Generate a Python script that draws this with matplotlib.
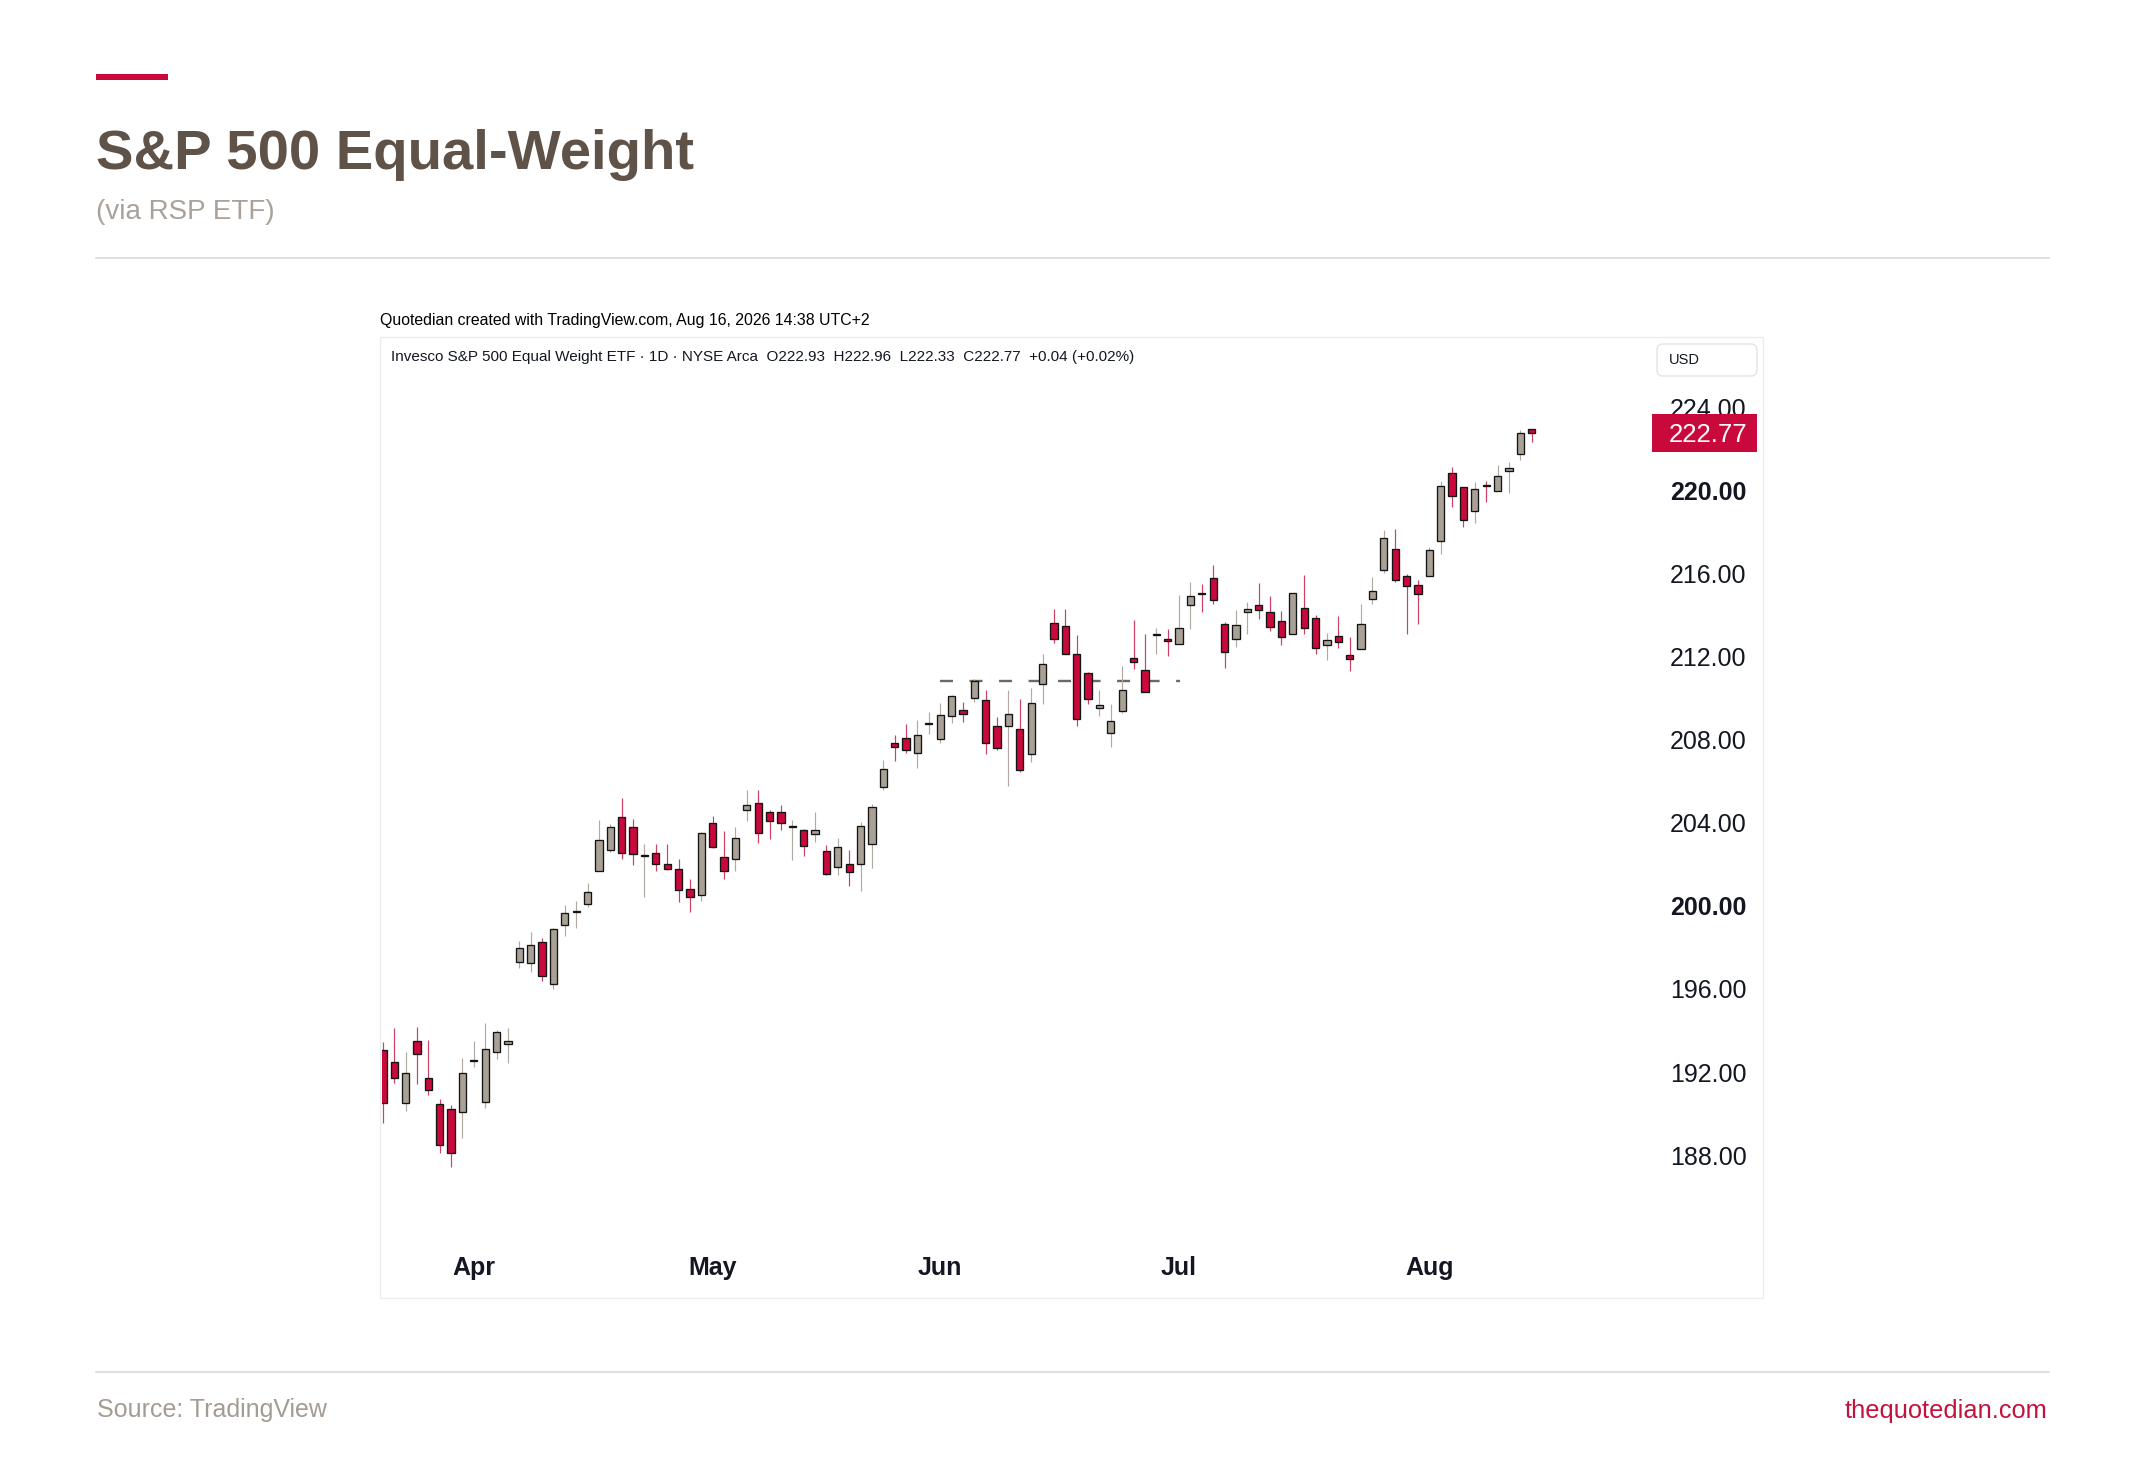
import numpy as np
import pandas as pd
import matplotlib
matplotlib.use("Agg")
import matplotlib.pyplot as plt
import matplotlib.transforms as mtransforms
from matplotlib.patches import Rectangle, FancyBboxPatch
from matplotlib.lines import Line2D

# ---------------- data ----------------
holidays = ["2026-04-03", "2026-05-25", "2026-06-19", "2026-07-03"]
start_date = "2026-03-20"
end_date = "2026-08-14"

opens = [193.06, 192.50, 190.53, 193.49, 191.73, 190.45, 190.21, 190.06, 192.54, 190.58,
         192.98, 193.35, 197.31, 197.23, 198.27, 196.23, 199.10, 199.72, 200.11, 201.68,
         202.67, 204.25, 203.80, 202.41, 202.56, 201.99, 201.79, 200.80, 200.54, 204.00,
         202.35, 202.27, 204.60, 204.97, 204.49, 204.49, 203.78, 203.67, 203.44, 202.63,
         201.87, 201.99, 201.99, 202.95, 205.72, 207.85, 208.06, 207.37, 208.76, 208.04,
         209.12, 209.44, 210.02, 209.89, 208.65, 208.65, 208.53, 207.32, 210.69, 213.61,
         213.48, 212.13, 211.22, 209.54, 208.33, 209.36, 211.91, 211.36, 213.02, 212.82,
         212.58, 214.49, 215.06, 215.78, 213.54, 212.82, 214.13, 214.49, 214.15, 213.72,
         213.09, 214.34, 213.85, 212.56, 213.00, 212.08, 212.37, 214.77, 216.17, 217.18,
         215.85, 215.42, 215.86, 217.55, 220.83, 220.14, 218.99, 220.27, 219.97, 220.93,
         221.75, 222.93]
highs = [193.46, 194.10, 192.98, 194.18, 193.54, 190.70, 190.41, 192.69, 193.51, 194.34,
         194.02, 194.10, 198.30, 198.75, 198.43, 198.91, 200.06, 200.24, 201.12, 204.12,
         203.96, 205.21, 204.20, 202.95, 202.95, 202.95, 202.27, 201.28, 203.56, 204.31,
         203.60, 203.80, 205.56, 205.56, 204.63, 204.84, 204.12, 203.70, 204.52, 202.91,
         203.28, 202.67, 204.04, 204.89, 207.00, 208.20, 208.77, 208.93, 209.33, 209.78,
         210.16, 209.81, 210.93, 210.37, 209.09, 210.37, 209.94, 210.48, 212.13, 214.29,
         214.29, 213.01, 211.25, 210.37, 209.70, 211.52, 213.77, 213.09, 213.38, 213.33,
         214.94, 215.58, 215.46, 216.38, 213.65, 214.21, 214.61, 215.53, 214.93, 214.18,
         215.05, 215.94, 213.97, 213.14, 213.93, 212.93, 214.50, 215.82, 218.06, 218.14,
         215.98, 215.66, 217.26, 220.46, 221.10, 220.16, 220.38, 220.46, 221.23, 221.35,
         222.90, 222.96]
lows = [189.53, 191.49, 190.14, 191.41, 190.90, 188.09, 187.45, 188.81, 192.26, 190.25,
        192.61, 192.45, 196.99, 196.83, 196.39, 195.99, 198.56, 198.94, 199.92, 201.68,
        202.60, 202.24, 201.95, 200.40, 201.68, 201.71, 200.19, 199.71, 200.24, 202.80,
        201.28, 201.68, 204.08, 203.00, 203.20, 203.64, 202.19, 202.39, 203.08, 201.47,
        201.47, 200.94, 200.72, 201.83, 205.56, 206.97, 207.36, 206.63, 208.29, 207.85,
        208.80, 208.85, 209.81, 207.32, 207.52, 205.75, 206.45, 206.92, 209.70, 212.64,
        212.10, 208.64, 209.73, 209.13, 207.64, 209.28, 211.38, 210.27, 212.10, 212.02,
        212.58, 213.33, 214.13, 214.50, 211.46, 212.45, 213.06, 213.81, 213.22, 212.53,
        213.09, 213.09, 212.13, 211.81, 212.40, 211.30, 212.37, 214.50, 216.01, 215.58,
        213.09, 213.57, 215.86, 216.91, 219.21, 218.22, 218.41, 219.42, 219.97, 219.85,
        221.46, 222.33]
closes = [190.49, 191.73, 191.94, 192.85, 191.14, 188.49, 188.09, 191.94, 192.58, 193.11,
          193.94, 193.51, 197.98, 198.11, 196.63, 198.86, 199.66, 199.76, 200.67, 203.16,
          203.80, 202.56, 202.48, 202.45, 202.03, 201.79, 200.75, 200.40, 203.48, 202.83,
          201.66, 203.24, 204.87, 203.52, 204.08, 203.99, 203.82, 202.88, 203.67, 201.52,
          202.83, 201.63, 203.84, 204.73, 206.60, 207.64, 207.52, 208.24, 208.80, 209.20,
          210.08, 209.25, 210.82, 207.85, 207.60, 209.21, 206.52, 209.76, 211.65, 212.85,
          212.13, 208.97, 209.97, 209.65, 208.91, 210.40, 211.73, 210.29, 213.06, 212.76,
          213.38, 214.90, 215.02, 214.73, 212.19, 213.52, 214.28, 214.21, 213.41, 212.93,
          215.05, 213.36, 212.42, 212.77, 212.71, 211.89, 213.57, 215.14, 217.71, 215.69,
          215.37, 214.98, 217.10, 220.22, 219.71, 218.57, 220.06, 220.18, 220.67, 221.07,
          222.73, 222.77]

month_labels = ["Apr", "May", "Jun", "Jul", "Aug"]
y_ticks = [188, 192, 196, 200, 204, 208, 212, 216, 220, 224]
bold_ticks = [200, 220]
hline_level = 210.82
hline_from = "2026-06-01"
hline_to = "2026-07-01"

title = "S&P 500 Equal-Weight"
subtitle = "(via RSP ETF)"
source = "Source: TradingView"
site = "thequotedian.com"
created = "Quotedian created with TradingView.com, Aug 16, 2026 14:38 UTC+2"
instrument = "Invesco S&P 500 Equal Weight ETF · 1D · NYSE Arca"
currency = "USD"

# ---------------- style ----------------
plt.rcParams["font.family"] = ["Liberation Sans", "DejaVu Sans"]
RED = "#c9083c"
GRAY = "#a9a196"
WICK_RED = "#cf3f64"
WICK_GRAY = "#b1aaa2"
TXT = "#131722"

W, H, DPI = 2145, 1458, 100
fig = plt.figure(figsize=(W / DPI, H / DPI), dpi=DPI)
fig.patch.set_facecolor("white")
P = mtransforms.Affine2D().scale(1.0 / DPI) + fig.dpi_scale_trans


def Y(y):
    return H - y


dates = pd.bdate_range(start_date, end_date, freq="C", holidays=holidays)
o = np.array(opens)
h = np.array(highs)
l = np.array(lows)
c = np.array(closes)
n = len(o)
dates = dates[:n]
x = np.arange(n)

# ---------------- price pane ----------------
ax_l, ax_r, ax_t, ax_b = 381.5, 1652.0, 338.0, 1240.0
ax = fig.add_axes([ax_l / W, 1 - ax_b / H, (ax_r - ax_l) / W, (ax_b - ax_t) / H])
ax.set_facecolor("white")

up = c >= o
body_colors = np.where(up, GRAY, RED)
wick_colors = np.where(up, WICK_GRAY, WICK_RED)
ax.vlines(x, l, h, colors=wick_colors, linewidth=0.85, zorder=2)
ax.bar(x, np.maximum(np.abs(c - o), 0.02), width=0.64, bottom=np.minimum(o, c),
       color=body_colors, edgecolor="#141414", linewidth=0.95, zorder=3)

i_from = int(np.where(dates == pd.Timestamp(hline_from))[0][0])
i_to = int(np.where(dates == pd.Timestamp(hline_to))[0][0])
ax.hlines(hline_level, i_from, i_to + 0.08, colors="#6e6862", linewidth=1.7,
          linestyles=(0, (5.5, 7.0)), zorder=1.5)

ax.set_xlim(-0.12, 111.58)
ax.set_ylim(183.92, 227.32)

# y axis on the right
ax.yaxis.tick_right()
ax.set_yticks(y_ticks)
ax.set_yticklabels([f"{v:.2f}" for v in y_ticks])
ax.tick_params(axis="y", length=0, pad=12.9, labelsize=18, labelcolor=TXT)
for lab, v in zip(ax.get_yticklabels(), y_ticks):
    if v in bold_ticks:
        lab.set_fontweight("bold")

# month ticks
month_idx = []
for m in range(1, n):
    if dates[m].month != dates[m - 1].month:
        month_idx.append(m)
ax.set_xticks(month_idx)
ax.set_xticklabels(month_labels[:len(month_idx)], fontweight="bold")
ax.tick_params(axis="x", length=0, pad=20.2, labelsize=18, labelcolor=TXT)
for lab in ax.get_xticklabels():
    lab.set_va("center")

for s in ax.spines.values():
    s.set_visible(False)

# last price label
tr = mtransforms.blended_transform_factory(ax.transAxes, ax.transData)
ppu = (ax_b - ax_t) / (227.32 - 183.92)
half = 19.0 / ppu
last = c[-1]
ax.add_patch(Rectangle((1.0, last - half), 105.0 / (ax_r - ax_l), 2 * half, transform=tr,
                       facecolor=RED, edgecolor="none", clip_on=False, zorder=10))
ax.text(1.0 + 17.0 / (ax_r - ax_l), last, f"{last:.2f}", transform=tr, color="white",
        fontsize=18.5, ha="left", va="center_baseline", clip_on=False, zorder=11)

# pane border
fig.add_artist(Rectangle((380, Y(1298)), 1383, 961, transform=P, fill=False,
                         edgecolor="#ececec", linewidth=1.0))

# USD box
fig.add_artist(FancyBboxPatch((1657, Y(376)), 100, 32, boxstyle="round,pad=0,rounding_size=6",
                              transform=P, facecolor="white", edgecolor="#e0e3eb", linewidth=1.0))
fig.text(1669, Y(360), currency, transform=P, fontsize=10.5, color=TXT, va="center", ha="left")

# legend line
chg = c[-1] - c[-2]
legend = (f"{instrument}  O{o[-1]:.2f}  H{h[-1]:.2f}  L{l[-1]:.2f}  C{c[-1]:.2f}  "
          f"{chg:+.2f} ({chg / c[-2] * 100:+.2f}%)")
fig.text(391, Y(357), legend, transform=P, fontsize=11.0, color=TXT, va="center", ha="left")
fig.text(380, Y(321), created, transform=P, fontsize=11.4, color="#000000", va="center", ha="left")

# ---------------- header / footer ----------------
fig.add_artist(Rectangle((96, Y(80)), 72, 6, transform=P, facecolor=RED, edgecolor="none"))
fig.text(96, Y(169.3), title, transform=P, fontsize=40.5, fontweight="bold",
         color="#5f5248", va="baseline", ha="left")
fig.text(96, Y(219), subtitle, transform=P, fontsize=20, color="#aaa29a",
         va="baseline", ha="left")
fig.add_artist(Line2D([96, 2049], [Y(257.5), Y(257.5)], transform=P, color="#d6d6d6", linewidth=1.1))
fig.add_artist(Line2D([96, 2049], [Y(1372.3), Y(1372.3)], transform=P, color="#d6d6d6", linewidth=1.1))
fig.text(96.7, Y(1417.3), source, transform=P, fontsize=18, color="#a39c95",
         va="baseline", ha="left")
fig.text(2047, Y(1418.3), site, transform=P, fontsize=18.3, color="#c4123f",
         va="baseline", ha="right")

fig.savefig("out.png", dpi=DPI, facecolor="white")
